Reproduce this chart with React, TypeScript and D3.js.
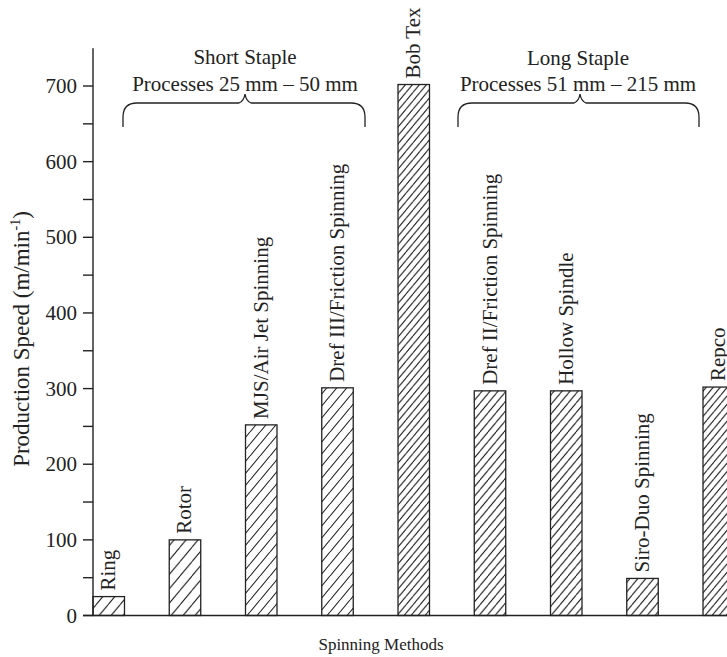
import React from "react";
import * as d3 from "d3";

const categories = [
  "Ring",
  "Rotor",
  "MJS/Air Jet Spinning",
  "Dref III/Friction Spinning",
  "Bob Tex",
  "Dref II/Friction Spinning",
  "Hollow Spindle",
  "Siro-Duo Spinning",
  "Repco",
];
const speeds = [25, 100, 252, 301, 702, 297, 297, 49, 302];
const majorTicks = [0, 100, 200, 300, 400, 500, 600, 700];
const minorTicks = [50, 150, 250, 350, 450, 550, 650];
const hatchGap = [12, 12, 10, 10, 7, 8, 8, 8, 7];

const W = 727;
const H = 657;
const FONT = "'Liberation Serif', 'Times New Roman', serif";
const INK = "#222";

function brace(x1: number, x2: number, mid: number, yTop: number, yBot: number, r: number, peak: number, hw: number) {
  return [
    `M${x1},${yBot}`,
    `L${x1},${yTop + r}`,
    `Q${x1},${yTop} ${x1 + r},${yTop}`,
    `L${mid - hw},${yTop}`,
    `Q${mid - 1},${yTop - 2} ${mid},${peak}`,
    `Q${mid + 1},${yTop - 2} ${mid + hw},${yTop}`,
    `L${x2 - r},${yTop}`,
    `Q${x2},${yTop} ${x2},${yTop + r}`,
    `L${x2},${yBot}`,
  ].join(" ");
}

export default function App() {
  const x = d3
    .scaleBand<string>()
    .domain(categories)
    .range([93, 734.5])
    .paddingInner(0.587)
    .paddingOuter(0)
    .align(0);
  const y = d3.scaleLinear().domain([0, 750]).range([615.5, 48.2]);
  const bw = x.bandwidth();
  const axisX = 93;

  return (
    <svg
      width={W}
      height={H}
      style={{ position: "absolute", left: 0, top: 0, background: "#fff" }}
      fontFamily={FONT}
    >
      <defs>
        {hatchGap.map((g, i) => {
          const h = g * 1.2;
          return (
            <pattern
              key={i}
              id={`hatch-${i}`}
              patternUnits="userSpaceOnUse"
              width={g}
              height={h}
            >
              <path
                d={`M${-g},${h} L0,0 M0,${h} L${g},0 M${g},${h} L${2 * g},0`}
                stroke={INK}
                strokeWidth={1.1}
              />
            </pattern>
          );
        })}
      </defs>

      {/* bars */}
      {categories.map((c, i) => (
        <rect
          key={c}
          x={x(c)}
          y={y(speeds[i])}
          width={bw}
          height={y(0) - y(speeds[i])}
          fill={`url(#hatch-${i})`}
          stroke={INK}
          strokeWidth={1.3}
        />
      ))}

      {/* bar labels */}
      {categories.map((c, i) => {
        const cx = (x(c) as number) + bw / 2 + 6.5;
        const ty = y(speeds[i]) - 6;
        return (
          <text
            key={c}
            transform={`translate(${cx},${ty}) rotate(-90)`}
            fontSize={21}
            fill={INK}
          >
            {c}
          </text>
        );
      })}

      {/* y axis */}
      <line x1={axisX} x2={axisX} y1={y(750)} y2={y(0)} stroke={INK} strokeWidth={1.4} />
      {majorTicks.map((t) => (
        <g key={t}>
          <line x1={axisX - 10} x2={axisX} y1={y(t)} y2={y(t)} stroke={INK} strokeWidth={1.4} />
          <text
            x={axisX - 16}
            y={y(t)}
            dy="0.34em"
            textAnchor="end"
            fontSize={21}
            fill={INK}
          >
            {t}
          </text>
        </g>
      ))}
      {minorTicks.map((t) => (
        <line key={t} x1={axisX - 10} x2={axisX} y1={y(t)} y2={y(t)} stroke={INK} strokeWidth={1.4} />
      ))}

      {/* x axis */}
      <line x1={axisX - 10} x2={W} y1={y(0)} y2={y(0)} stroke={INK} strokeWidth={1.4} />

      {/* axis titles */}
      <text x={381} y={650} textAnchor="middle" fontSize={17} fill={INK}>
        Spinning Methods
      </text>
      <text
        transform={`translate(29,339) rotate(-90)`}
        textAnchor="middle"
        fontSize={23}
        fill={INK}
      >
        Production Speed (m/min
        <tspan fontSize={14} dy={-9}>-1</tspan>
        <tspan dy={9}>)</tspan>
      </text>

      {/* group annotations */}
      <text x={245} y={64} textAnchor="middle" fontSize={21} fill={INK}>
        Short Staple
      </text>
      <text x={245} y={91} textAnchor="middle" fontSize={21} fill={INK}>
        Processes 25 mm – 50 mm
      </text>
      <path d={brace(123, 365, 245, 103, 127, 14, 94, 6)} fill="none" stroke={INK} strokeWidth={1.3} />

      <text x={578} y={65} textAnchor="middle" fontSize={21} fill={INK}>
        Long Staple
      </text>
      <text x={578} y={91} textAnchor="middle" fontSize={21} fill={INK}>
        Processes 51 mm – 215 mm
      </text>
      <path d={brace(458, 699, 580, 103, 127, 14, 94, 6)} fill="none" stroke={INK} strokeWidth={1.3} />
    </svg>
  );
}
